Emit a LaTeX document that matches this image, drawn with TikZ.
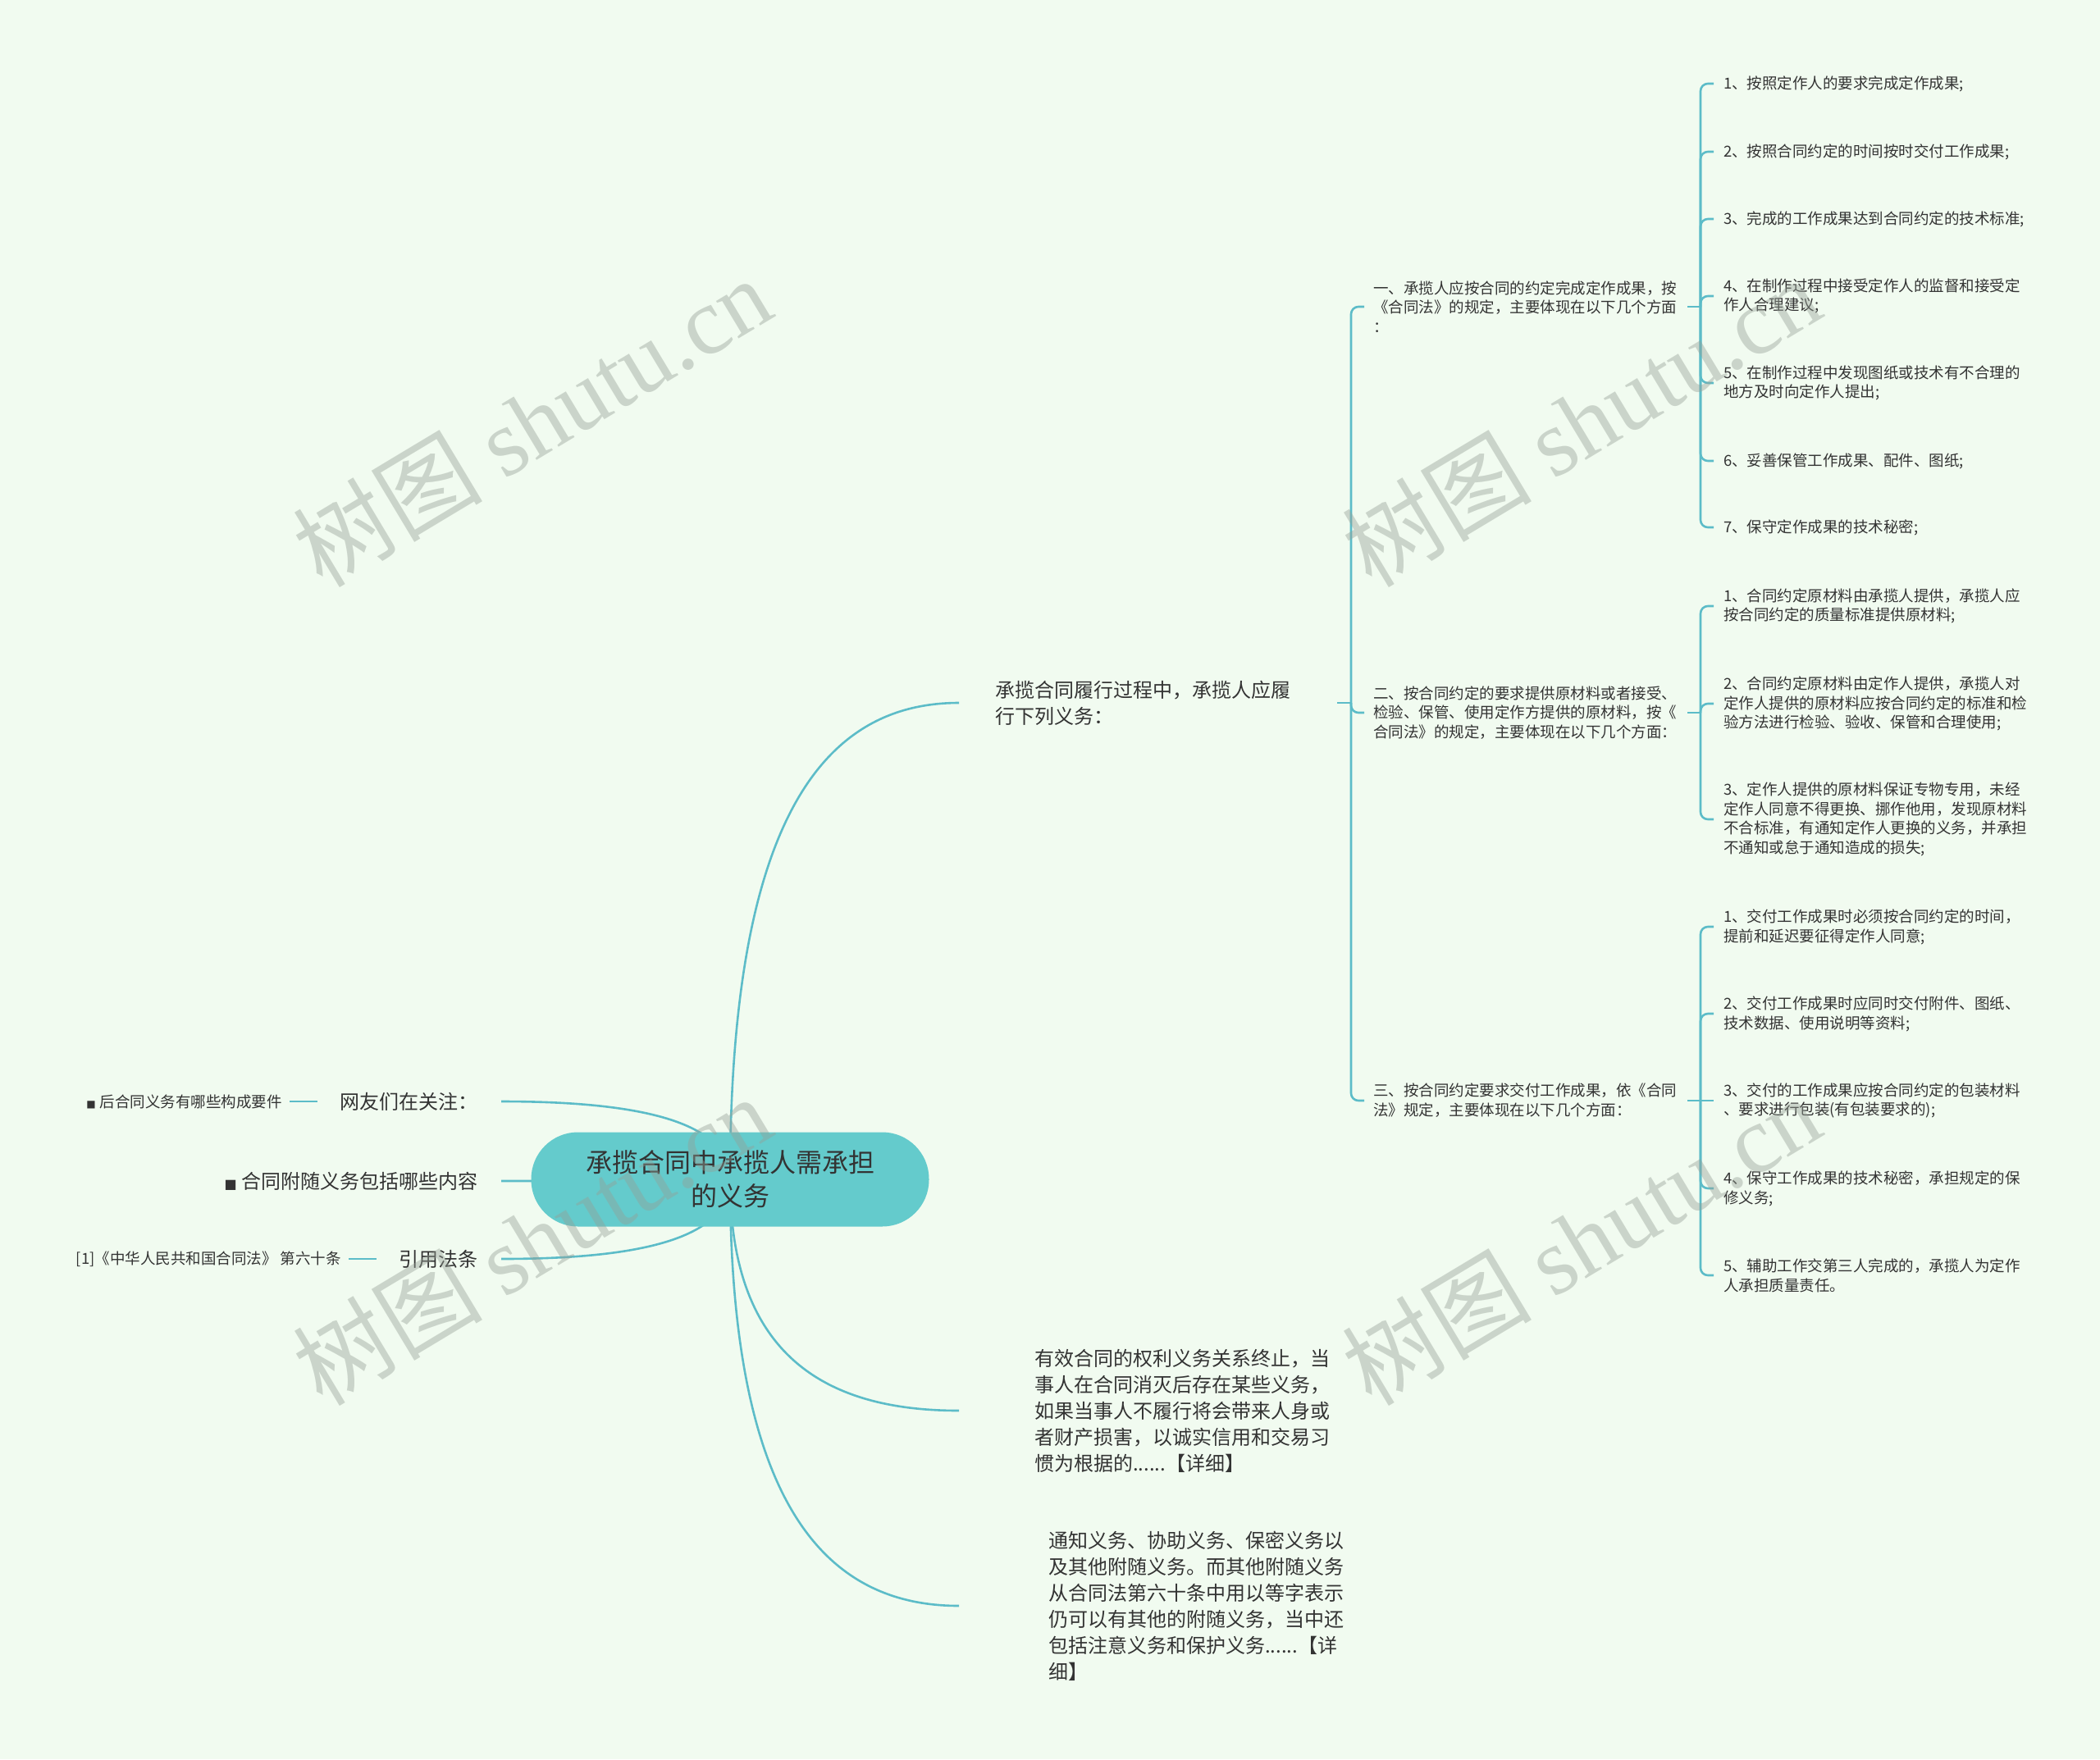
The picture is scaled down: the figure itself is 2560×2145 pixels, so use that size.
\documentclass[tikz,border=0pt]{standalone}
\usepackage{fontspec}
\setmainfont{Noto Sans CJK SC}
\newfontfamily\wmlatin{Liberation Serif}
\newfontfamily\dejavu{DejaVu Sans}
\usetikzlibrary{backgrounds}
\definecolor{bgc}{HTML}{F1FBF0}
\definecolor{lnc}{HTML}{5CBCC8}
\definecolor{rootc}{HTML}{64CBCC}
\definecolor{txt}{HTML}{333333}
\definecolor{wmc}{HTML}{96A096}
\tikzset{
  conn/.style={draw=lnc, line width=2.6pt},
  brc/.style={conn, rounded corners=9pt},
  rootbox/.style={fill=rootc, rounded corners=57pt, minimum width=485pt, minimum height=115pt,
    inner sep=0pt, align=center, text=txt, font=\fontsize{32pt}{41pt}\selectfont},
  big/.style={font=\fontsize{24pt}{32pt}\selectfont, text=txt, inner ysep=0pt, align=left},
  sml/.style={font=\fontsize{18.5pt}{23.8pt}\selectfont, text=txt, inner ysep=0pt, align=left},
  midbox/.style={sml, text width=372pt, inner xsep=11pt, anchor=west},
  leafbox/.style={sml, inner xsep=12pt, anchor=west},
  wmark/.style={text=wmc, opacity=0.42, rotate=31, inner sep=0pt,
    font=\fontsize{116pt}{116pt}\selectfont},
}
\newcommand{\sqbul}[1]{{\dejavu\fontsize{#1}{#1}\selectfont ■}}
\begin{document}
\begin{tikzpicture}[x=1pt,y=-1pt]
\useasboundingbox (0,0) rectangle (2560,2145);

% root
\node[rootbox] (root) at (890,1438) {承揽合同中承揽人需承担\\的义务};

% left side
\node[big, anchor=east, inner xsep=28pt] (L1) at (611,1343) {网友们在关注：};
\node[sml, anchor=east, inner xsep=9pt] (L1a) at (353,1343) {\sqbul{12pt}\hspace{5pt}后合同义务有哪些构成要件};
\node[big, anchor=east, inner xsep=28pt] (L2) at (611,1440) {\sqbul{16pt}\hspace{6pt}合同附随义务包括哪些内容};
\node[big, anchor=east, inner xsep=28pt] (L3) at (611,1535) {引用法条};
\node[sml, anchor=east, inner xsep=9pt] (L3a) at (425,1535) {[1]《中华人民共和国合同法》 第六十条};

% right level 1
\node[big, anchor=west, text width=373pt, inner xsep=44pt] (R1) at (1169,857)
  {承揽合同履行过程中，承揽人应履\\行下列义务：};
\node[big, anchor=west, inner xsep=92pt] (R2) at (1169,1720)
  {有效合同的权利义务关系终止，当\\事人在合同消灭后存在某些义务，\\如果当事人不履行将会带来人身或\\者财产损害，以诚实信用和交易习\\惯为根据的......【详细】};
\node[big, anchor=west, inner xsep=109pt] (R3) at (1169,1958)
  {通知义务、协助义务、保密义务以\\及其他附随义务。而其他附随义务\\从合同法第六十条中用以等字表示\\仍可以有其他的附随义务，当中还\\包括注意义务和保护义务......【详\\细】};

% level 2
\node[midbox] (A) at (1663,374)
  {一、承揽人应按合同的约定完成定作成果，按\\《合同法》的规定，主要体现在以下几个方面\\：};
\node[midbox] (B) at (1663,869)
  {二、按合同约定的要求提供原材料或者接受、\\检验、保管、使用定作方提供的原材料，按《\\合同法》的规定，主要体现在以下几个方面：};
\node[midbox] (C) at (1663,1342)
  {三、按合同约定要求交付工作成果，依《合同\\法》规定，主要体现在以下几个方面：};

% level 3, group A
\node[leafbox] (A1) at (2089,102) {1、按照定作人的要求完成定作成果;};
\node[leafbox] (A2) at (2089,185) {2、按照合同约定的时间按时交付工作成果;};
\node[leafbox] (A3) at (2089,267) {3、完成的工作成果达到合同约定的技术标准;};
\node[leafbox] (A4) at (2089,361) {4、在制作过程中接受定作人的监督和接受定\\作人合理建议;};
\node[leafbox] (A5) at (2089,467) {5、在制作过程中发现图纸或技术有不合理的\\地方及时向定作人提出;};
\node[leafbox] (A6) at (2089,562) {6、妥善保管工作成果、配件、图纸;};
\node[leafbox] (A7) at (2089,643) {7、保守定作成果的技术秘密;};

% group B
\node[leafbox] (B1) at (2089,739) {1、合同约定原材料由承揽人提供，承揽人应\\按合同约定的质量标准提供原材料;};
\node[leafbox] (B2) at (2089,858) {2、合同约定原材料由定作人提供，承揽人对\\定作人提供的原材料应按合同约定的标准和检\\验方法进行检验、验收、保管和合理使用;};
\node[leafbox] (B3) at (2089,999) {3、定作人提供的原材料保证专物专用，未经\\定作人同意不得更换、挪作他用，发现原材料\\不合标准，有通知定作人更换的义务，并承担\\不通知或怠于通知造成的损失;};

% group C
\node[leafbox] (C1) at (2089,1130) {1、交付工作成果时必须按合同约定的时间，\\提前和延迟要征得定作人同意;};
\node[leafbox] (C2) at (2089,1236) {2、交付工作成果时应同时交付附件、图纸、\\技术数据、使用说明等资料;};
\node[leafbox] (C3) at (2089,1342) {3、交付的工作成果应按合同约定的包装材料\\、要求进行包装(有包装要求的);};
\node[leafbox] (C4) at (2089,1449) {4、保守工作成果的技术秘密，承担规定的保\\修义务;};
\node[leafbox] (C5) at (2089,1555) {5、辅助工作交第三人完成的，承揽人为定作\\人承担质量责任。};

% spine points
\coordinate (sR1) at (1647,857);
\coordinate (sA) at (2073,374);
\coordinate (sB) at (2073,869);
\coordinate (sC) at (2073,1342);

\begin{pgfonlayer}{background}
  \fill[bgc] (0,0) rectangle (2560,2145);
  % root curves
  \draw[conn] (root.center) .. controls (890,1002) and (1002,857) .. (R1.west);
  \draw[conn] (root.center) .. controls (890,1649) and (1002,1720) .. (R2.west);
  \draw[conn] (root.center) .. controls (890,1828) and (1002,1958) .. (R3.west);
  \draw[conn] (root.center) .. controls (890,1367) and (778,1343) .. (L1.east);
  \draw[conn] (root.center) .. controls (890,1439) and (778,1440) .. (L2.east);
  \draw[conn] (root.center) .. controls (890,1511) and (778,1535) .. (L3.east);
\end{pgfonlayer}

% left stubs
\draw[conn] (L1a.east) -- (L1.west);
\draw[conn] (L3a.east) -- (L3.west);

% level-1 -> level-2 spine
\draw[conn] (R1.east) -- (sR1);
\foreach \c in {A,B,C} \draw[brc] (sR1) |- (\c.west);

% level-2 -> level-3 spines
\draw[conn] (A.east) -- (sA);
\foreach \c in {A1,A2,A3,A4,A5,A6,A7} \draw[brc] (sA) |- (\c.west);
\draw[conn] (B.east) -- (sB);
\foreach \c in {B1,B2,B3} \draw[brc] (sB) |- (\c.west);
\draw[conn] (C.east) -- (sC);
\foreach \c in {C1,C2,C4,C5} \draw[brc] (sC) |- (\c.west);
\draw[conn] (sC) -- (C3.west);

% watermarks
\node[wmark] (w1) at (648,514) {树图 {\wmlatin shutu.cn}};
\node[wmark] (w2) at (1927,514) {树图 {\wmlatin shutu.cn}};
\node[wmark] (w3) at (648,1512) {树图 {\wmlatin shutu.cn}};
\node[wmark] (w4) at (1927,1512) {树图 {\wmlatin shutu.cn}};
\end{tikzpicture}
\end{document}
